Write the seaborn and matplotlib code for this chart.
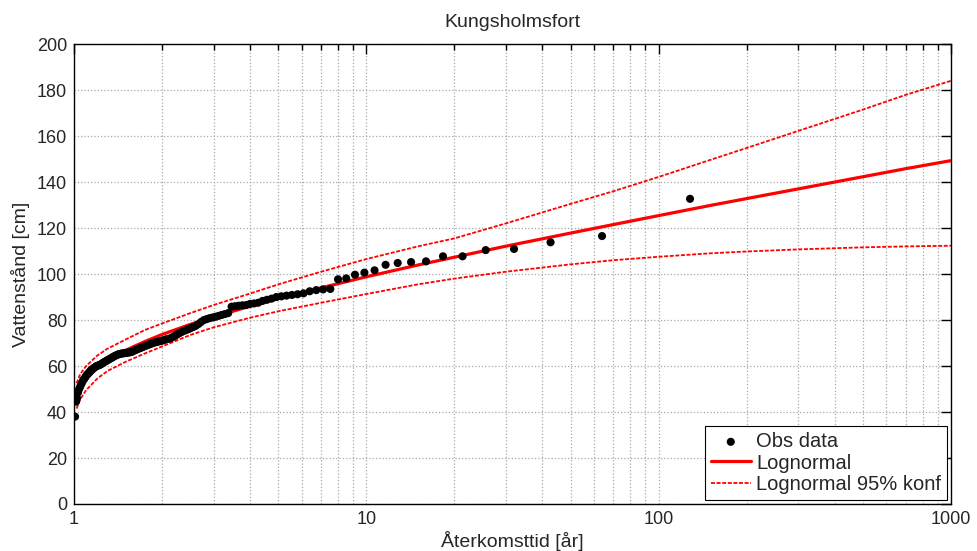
import numpy as np
import seaborn as sns
import matplotlib.pyplot as plt
from matplotlib.ticker import FixedLocator, FixedFormatter, LogLocator, NullFormatter

# Observed annual maxima: return period [år] and water level [cm]
obs_T = [1.008, 1.016, 1.024, 1.032, 1.041, 1.049, 1.058, 1.067, 1.076, 1.085,
         1.094, 1.103, 1.113, 1.123, 1.133, 1.143, 1.153, 1.164, 1.174, 1.185,
         1.196, 1.208, 1.219, 1.231, 1.243, 1.255, 1.267, 1.280, 1.293, 1.306,
         1.320, 1.333, 1.347, 1.362, 1.376, 1.391, 1.407, 1.422, 1.438, 1.455,
         1.471, 1.488, 1.506, 1.524, 1.542, 1.561, 1.580, 1.600, 1.620, 1.641,
         1.662, 1.684, 1.707, 1.730, 1.753, 1.778, 1.803, 1.829, 1.855, 1.882,
         1.910, 1.939, 1.969, 2.000, 2.032, 2.065, 2.098, 2.133, 2.169, 2.207,
         2.246, 2.286, 2.327, 2.370, 2.415, 2.462, 2.510, 2.560, 2.612, 2.667,
         2.723, 2.783, 2.844, 2.909, 2.977, 3.048, 3.122, 3.200, 3.282, 3.368,
         3.459, 3.556, 3.657, 3.765, 3.879, 4.000, 4.129, 4.267, 4.414, 4.571,
         4.741, 4.923, 5.120, 5.333, 5.565, 5.818, 6.095, 6.400, 6.737, 7.111,
         7.529, 8.000, 8.533, 9.143, 9.846, 10.667, 11.636, 12.8, 14.222, 16.0,
         18.286, 21.333, 25.6, 32.0, 42.667, 64.0, 128.0]
obs_level = [38.0, 44.5, 46.0, 48.5, 50.0, 51.0, 52.0, 53.0, 54.0, 54.5,
             55.2, 56.0, 56.5, 57.0, 57.6, 58.2, 58.5, 59.0, 59.3, 59.7,
             60.0, 60.2, 60.4, 60.6, 61.0, 61.3, 61.7, 62.0, 62.3, 62.6,
             63.0, 63.3, 63.6, 64.0, 64.3, 64.6, 64.9, 65.1, 65.3, 65.4,
             65.5, 65.6, 65.7, 65.8, 65.9, 66.0, 66.2, 66.6, 66.9, 67.2,
             67.5, 67.8, 68.1, 68.4, 68.7, 69.0, 69.3, 69.6, 69.9, 70.2,
             70.4, 70.6, 70.8, 71.0, 71.3, 71.6, 71.8, 72.0, 72.5, 73.0,
             73.6, 74.2, 74.7, 75.2, 75.6, 76.0, 76.5, 77.0, 77.5, 78.3,
             79.2, 80.0, 80.4, 80.8, 81.1, 81.4, 81.8, 82.2, 82.6, 83.0,
             85.8, 86.0, 86.2, 86.4, 86.5, 87.0, 87.2, 87.5, 88.3, 88.8,
             89.3, 90.0, 90.3, 90.6, 90.9, 91.2, 91.6, 92.5, 93.0, 93.3,
             93.5, 97.7, 98.1, 99.7, 100.6, 101.6, 104.0, 104.8, 105.2, 105.5,
             107.7, 107.7, 110.4, 110.9, 113.8, 116.5, 132.7]

# Lognormal fit and 95% confidence bounds
fit_T = [1.02, 1.05, 1.1, 1.2, 1.3, 1.5, 1.75, 2, 2.5, 3, 4, 5, 7, 10, 15, 20,
         30, 50, 70, 100, 150, 200, 300, 500, 700, 1000]
fit_level = [46.0, 50.3, 54.3, 59.1, 62.3, 66.8, 70.7, 73.7, 78.1, 81.3, 86.0,
             89.3, 94.0, 98.8, 103.9, 107.3, 112.1, 117.8, 121.5, 125.4, 129.8,
             132.8, 137.0, 142.3, 145.8, 149.3]
upper_level = [52.5, 56.5, 60.0, 64.5, 67.5, 71.5, 75.7, 78.5, 83.0, 86.5, 91.5,
               95.5, 101.0, 106.5, 112.0, 115.5, 122.0, 130.5, 136.0, 142.2,
               149.6, 154.8, 162.2, 171.5, 177.9, 184.0]
lower_level = [41.5, 45.5, 49.5, 54.5, 57.8, 61.8, 65.5, 68.5, 73.5, 76.8, 81.0,
               83.8, 87.5, 91.3, 95.5, 98.0, 101.0, 104.2, 106.0, 107.5, 109.0,
               109.8, 110.7, 111.6, 112.0, 112.3]

x_ticks = [1, 10, 100, 1000]
x_ticklabels = ['1', '10', '100', '1000']
y_ticks = list(range(0, 201, 20))

sns.set_style('white')
plt.rcParams['font.family'] = ['Liberation Sans', 'DejaVu Sans']

fig = plt.figure(figsize=(9.78, 5.51), dpi=100)
ax = fig.add_axes([0.0757, 0.0853, 0.8967, 0.8348])

sns.lineplot(x=fit_T, y=upper_level, ax=ax, color='red', lw=1.3,
             sort=False, label='Lognormal 95% konf', zorder=2)
ax.lines[-1].set_dashes((2.2, 0.9))
sns.lineplot(x=fit_T, y=lower_level, ax=ax, color='red', lw=1.3,
             sort=False, zorder=2)
ax.lines[-1].set_dashes((2.2, 0.9))
sns.lineplot(x=fit_T, y=fit_level, ax=ax, color='red', lw=2.3,
             sort=False, label='Lognormal', zorder=3)
sns.scatterplot(x=obs_T, y=obs_level, ax=ax, color='black', s=34,
                edgecolor='none', label='Obs data', zorder=4)

ax.set_xscale('log')
ax.set_xlim(1, 1000)
ax.set_ylim(0, 200)
ax.xaxis.set_major_locator(FixedLocator(x_ticks))
ax.xaxis.set_major_formatter(FixedFormatter(x_ticklabels))
ax.xaxis.set_minor_locator(LogLocator(base=10, subs=np.arange(2, 10)))
ax.xaxis.set_minor_formatter(NullFormatter())
ax.set_yticks(y_ticks)

ax.grid(True, which='major', color='#a8a8a8', linestyle=':', linewidth=0.9)
ax.grid(True, which='minor', axis='x', color='#a8a8a8', linestyle=':', linewidth=0.9)

ax.tick_params(which='both', direction='in', top=True, right=True,
               labelsize=13, width=1.0, color='black')
ax.tick_params(which='major', length=7, pad=5)
ax.tick_params(which='minor', length=4)
for s in ax.spines.values():
    s.set_color('black')
    s.set_linewidth(1.0)

ax.set_title('Kungsholmsfort', fontsize=14, pad=12)
ax.set_xlabel('Återkomsttid [år]', fontsize=14, labelpad=2)
ax.set_ylabel('Vattenstånd [cm]', fontsize=14, labelpad=5)

handles, labels = ax.get_legend_handles_labels()
order = [labels.index(l) for l in ['Obs data', 'Lognormal', 'Lognormal 95% konf']]
leg = ax.legend([handles[i] for i in order], [labels[i] for i in order],
                loc='lower right', fontsize=14.5, frameon=True, fancybox=False,
                edgecolor='black', framealpha=1, borderaxespad=0.2,
                handlelength=2.0, handletextpad=0.25, labelspacing=0.12,
                borderpad=0.3)
leg.get_frame().set_linewidth(0.8)

plt.savefig('out.png', dpi=100)
